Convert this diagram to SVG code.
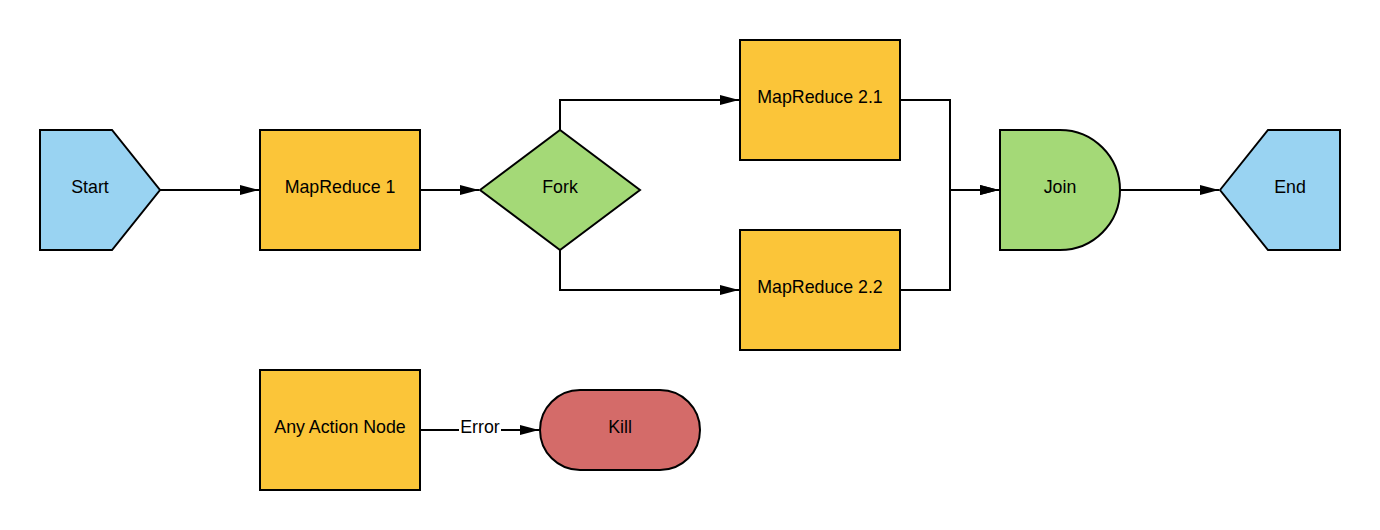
<svg xmlns="http://www.w3.org/2000/svg" width="1380" height="530" viewBox="0 0 1380 530">
<style>
.n{stroke:#000;stroke-width:2;stroke-linejoin:miter}
.blue{fill:#99d3f2}
.yel{fill:#fbc539}
.grn{fill:#a4d977}
.red{fill:#d46b69}
text{font-family:"Liberation Sans",Arial,sans-serif;font-size:17.8px;fill:#000;text-anchor:middle;dominant-baseline:central}
.c{fill:none;stroke:#000;stroke-width:2;marker-end:url(#ah)}
</style>
<defs>
<marker id="ah" markerUnits="userSpaceOnUse" markerWidth="20" markerHeight="12" refX="19" refY="6" orient="auto">
<path d="M0,1 L19,6 L0,11 Z" fill="#000"/>
</marker>
</defs>
<rect width="1380" height="530" fill="#fff"/>
<g id="connectors">
<path class="c" d="M160,190 H259"/>
<path class="c" d="M420,190 H479"/>
<path class="c" d="M560,130 V100 H739"/>
<path class="c" d="M560,250 V290 H739"/>
<path class="c" d="M900,100 H950 V190 H999"/>
<path class="c" d="M900,290 H950 V190 H999"/>
<path class="c" d="M1120,190 H1219"/>
<path class="c" d="M420,430 H539"/>
<rect x="459" y="418" width="42" height="20" fill="#fff"/>
<text x="480" y="427">Error</text>
</g>
<g id="start">
<polygon class="n blue" points="40,130 112,130 160,190 112,250 40,250"/>
<text x="90" y="187">Start</text>
</g>
<g id="mr1">
<rect class="n yel" x="260" y="130" width="160" height="120"/>
<text x="340" y="187">MapReduce 1</text>
</g>
<g id="fork">
<polygon class="n grn" points="480,190 560,130 640,190 560,250"/>
<text x="560" y="187">Fork</text>
</g>
<g id="mr21">
<rect class="n yel" x="740" y="40" width="160" height="120"/>
<text x="820" y="97">MapReduce 2.1</text>
</g>
<g id="mr22">
<rect class="n yel" x="740" y="230" width="160" height="120"/>
<text x="820" y="287">MapReduce 2.2</text>
</g>
<g id="join">
<path class="n grn" d="M1000,130 H1060 A60,60 0 0 1 1060,250 H1000 Z"/>
<text x="1060" y="187">Join</text>
</g>
<g id="end">
<polygon class="n blue" points="1220,190 1268,130 1340,130 1340,250 1268,250"/>
<text x="1290" y="187">End</text>
</g>
<g id="anyaction">
<rect class="n yel" x="260" y="370" width="160" height="120"/>
<text x="340" y="427">Any Action Node</text>
</g>
<g id="kill">
<rect class="n red" x="540" y="390" width="160" height="80" rx="40" ry="40"/>
<text x="620" y="427">Kill</text>
</g>
</svg>
